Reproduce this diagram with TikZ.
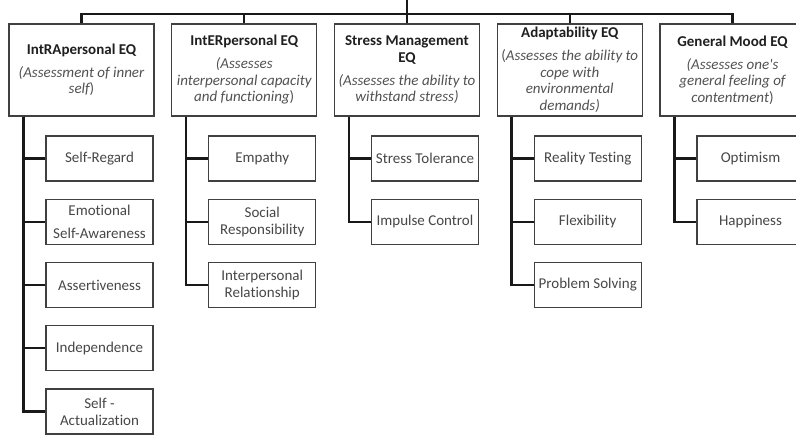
\documentclass[tikz,border=0pt]{standalone}
\usepackage{fontspec}
\setmainfont{Carlito}[RawFeature={-liga}]
% line styles for header texts
\newcommand{\gh}{\bfseries\color{black!88}}
\newcommand{\gn}{\itshape\color{black!68}}
\begin{document}
\begin{tikzpicture}[x=1pt,y=-1pt,
  conn/.style={draw=black!90,line width=2.4pt},
  groupbox/.style={draw=black!75,line width=1.2pt,fill=white,minimum width=145pt,
    minimum height=92pt,inner sep=0pt,align=center,
    font=\fontsize{15}{16.5}\selectfont},
  itembox/.style={draw=black!75,line width=1.2pt,fill=white,minimum width=107pt,
    minimum height=45pt,inner sep=0pt,align=center,text=black!72,
    font=\fontsize{15}{16.7}\selectfont}]
\useasboundingbox (0,0) rectangle (796,436);
\clip (0,0) rectangle (796,436);

% group headers
\node[groupbox] (g1) at (81.5,70) {\gh IntRApersonal EQ\\[6.5pt]\gn (Assessment of inner\\\gn self\upshape)};
\node[groupbox] (g2) at (244.25,70) {\gh IntERpersonal EQ\\[6.5pt]\gn (Assesses\\\gn interpersonal capacity\\\gn and functioning\upshape)};
\node[groupbox] (g3) at (407,70) {\gh Stress Management\\\gh EQ\\[6.5pt]\gn (Assesses the ability to\\\gn withstand stress)};
\node[groupbox] (g4) at (569.75,70) {\gh Adaptability EQ\\[6.5pt]\gn{\upshape(}Assesses the ability to\\\gn cope with\\\gn environmental\\\gn demands)};
\node[groupbox] (g5) at (732.5,70) {\gh General Mood EQ\\[6.5pt]\gn (Assesses one\textquotesingle s\\\gn general feeling of\\\gn contentment\upshape)};

% items
\node[itembox] (a1) at (99.5,158.5) {Self-Regard};
\node[itembox] (a2) at (99.5,221.75) {Emotional\\[6pt]Self-Awareness};
\node[itembox] (a3) at (99.5,285) {Assertiveness};
\node[itembox] (a4) at (99.5,348.25) {Independence};
\node[itembox] (a5) at (99.5,411.5) {Self -\\Actualization};

\node[itembox] (b1) at (262.25,158.5) {Empathy};
\node[itembox] (b2) at (262.25,221.75) {Social\\Responsibility};
\node[itembox] (b3) at (262.25,285) {Interpersonal\\Relationship};

\node[itembox] (c1) at (425,158.5) {Stress Tolerance};
\node[itembox] (c2) at (425,221.75) {Impulse Control};

\node[itembox] (d1) at (587.75,158.5) {Reality Testing};
\node[itembox] (d2) at (587.75,221.75) {Flexibility};
\node[itembox] (d3) at (587.75,285) {Problem Solving};

\node[itembox] (e1) at (750.5,158.5) {Optimism};
\node[itembox] (e2) at (750.5,221.75) {Happiness};

% top bus
\coordinate (root) at (407,0);
\coordinate (bus) at (407,14);
\draw[conn] (root) -- (bus);
\foreach \g in {g1,g2,g3,g4,g5}
  \draw[conn] (\g.north) |- (bus);

% group-to-item connectors
\foreach \g/\items in {g1/{a1,a2,a3,a4,a5},g2/{b1,b2,b3},g3/{c1,c2},g4/{d1,d2,d3},g5/{e1,e2}}
  \foreach \i in \items
    \draw[conn] ([xshift=15pt]\g.south west) |- (\i.west);
\end{tikzpicture}
\end{document}
